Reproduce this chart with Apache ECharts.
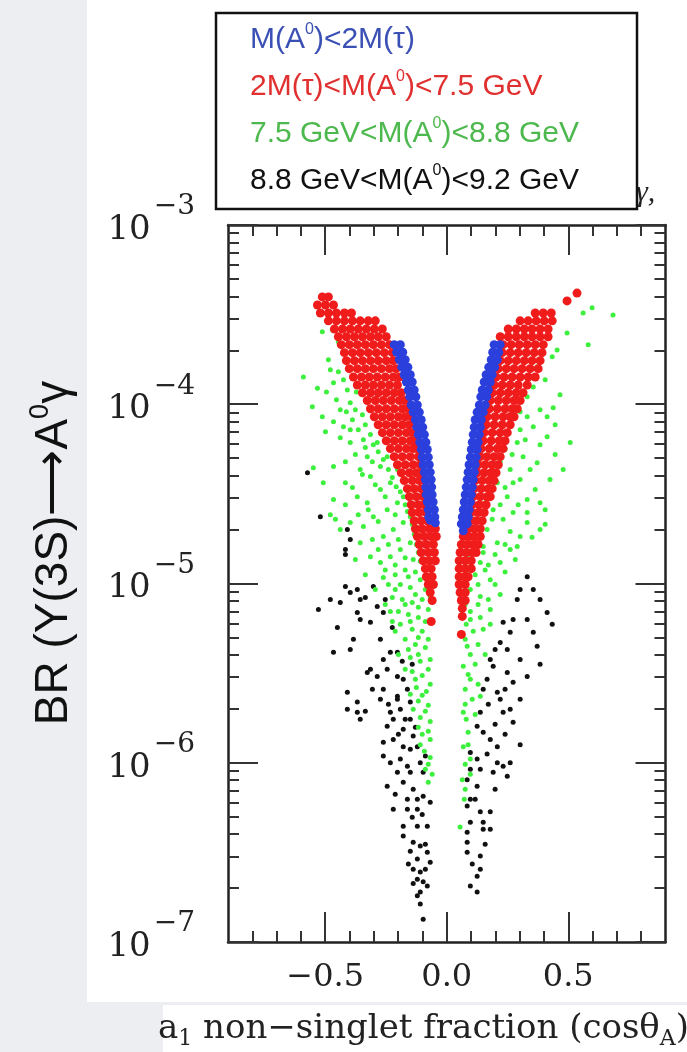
<!DOCTYPE html>
<html><head><meta charset="utf-8">
<script src="https://cdn.jsdelivr.net/npm/echarts@6/dist/echarts.min.js"></script>
<style>html,body{margin:0;padding:0;background:#ffffff}#c{width:687px;height:1052px}</style>
</head><body><div id="c"></div>
<script>
const seriesNames = [
  'M(A{sup|0})<2M(τ)',
  '2M(τ)<M(A{sup|0})<7.5 GeV',
  '7.5 GeV<M(A{sup|0})<8.8 GeV',
  '8.8 GeV<M(A{sup|0})<9.2 GeV'
];
const legendTextColors = ['#3b50b5', '#e0302f', '#4db84d', '#111111'];
const pointColors = ['#2a3fdb', '#f01c1c', '#3ef03e', '#111111'];

const xMajorTicks = [-0.5, 0, 0.5];
const xMinorTicks = [-0.8, -0.7, -0.6, -0.4, -0.3, -0.2, -0.1, 0.1, 0.2, 0.3, 0.4, 0.6, 0.7, 0.8];
const yMajorTicks = [1e-7, 1e-6, 1e-5, 1e-4, 1e-3];
const yMinorTicks = [2e-7,3e-7,4e-7,5e-7,6e-7,7e-7,8e-7,9e-7,2e-6,3e-6,4e-6,5e-6,6e-6,7e-6,8e-6,9e-6,
  2e-5,3e-5,4e-5,5e-5,6e-5,7e-5,8e-5,9e-5,2e-4,3e-4,4e-4,5e-4,6e-4,7e-4,8e-4,9e-4];

const blueData = [
[-0.216,2.15e-4],[-0.191,2.15e-4],[-0.206,1.95e-4],[-0.181,1.95e-4],[-0.195,1.77e-4],[-0.171,1.77e-4],
[-0.185,1.61e-4],[-0.160,1.61e-4],[-0.175,1.46e-4],[-0.150,1.46e-4],[-0.166,1.33e-4],[-0.142,1.33e-4],
[-0.158,1.20e-4],[-0.134,1.20e-4],[-0.152,1.10e-4],[-0.127,1.10e-4],[-0.146,9.9e-5],[-0.121,9.9e-5],
[-0.138,9.03e-5],[-0.113,9.03e-5],[-0.129,8.2e-5],[-0.105,8.2e-5],[-0.123,7.45e-5],[-0.099,7.45e-5],
[-0.117,6.77e-5],[-0.092,6.77e-5],[-0.111,6.14e-5],[-0.086,6.14e-5],[-0.105,5.59e-5],[-0.080,5.59e-5],
[-0.101,5.07e-5],[-0.076,5.07e-5],[-0.097,4.6e-5],[-0.072,4.6e-5],[-0.092,4.18e-5],[-0.068,4.18e-5],
[-0.088,3.8e-5],[-0.064,3.8e-5],[-0.086,3.45e-5],[-0.062,3.45e-5],[-0.084,3.13e-5],[-0.060,3.13e-5],
[-0.080,2.85e-5],[-0.056,2.85e-5],[-0.076,2.58e-5],[-0.051,2.58e-5],[-0.074,2.35e-5],[-0.049,2.35e-5],
[-0.068,2.25e-5],[-0.047,2.18e-5],
[0.195,2.15e-4],[0.220,2.15e-4],[0.189,1.95e-4],[0.214,1.95e-4],[0.183,1.77e-4],[0.208,1.77e-4],
[0.173,1.61e-4],[0.197,1.61e-4],[0.162,1.46e-4],[0.187,1.46e-4],[0.154,1.33e-4],[0.179,1.33e-4],
[0.146,1.2e-4],[0.171,1.2e-4],[0.140,1.1e-4],[0.164,1.1e-4],[0.134,9.9e-5],[0.158,9.9e-5],
[0.125,9.03e-5],[0.150,9.03e-5],[0.117,8.2e-5],[0.142,8.2e-5],[0.113,7.45e-5],[0.138,7.45e-5],
[0.109,6.77e-5],[0.134,6.77e-5],[0.105,6.14e-5],[0.129,6.14e-5],[0.101,5.59e-5],[0.125,5.59e-5],
[0.097,5.07e-5],[0.121,5.07e-5],[0.092,4.6e-5],[0.117,4.6e-5],[0.088,4.18e-5],[0.113,4.18e-5],
[0.084,3.8e-5],[0.109,3.8e-5],[0.080,3.45e-5],[0.105,3.45e-5],[0.076,3.13e-5],[0.101,3.13e-5],
[0.072,2.85e-5],[0.097,2.85e-5],[0.068,2.58e-5],[0.092,2.58e-5],[0.064,2.35e-5],[0.088,2.35e-5],
[0.060,2.15e-5],[0.084,2.15e-5],[0.068,1.97e-5]
];

const redData = [
[-0.512,3.97e-4],[-0.487,3.97e-4],
[-0.532,3.58e-4],[-0.499,3.58e-4],[-0.466,3.58e-4],
[-0.520,3.23e-4],[-0.487,3.23e-4],[-0.454,3.23e-4],[-0.421,3.23e-4],[-0.392,3.23e-4],
[-0.487,2.92e-4],[-0.454,2.92e-4],[-0.421,2.92e-4],[-0.388,2.92e-4],[-0.356,2.92e-4],[-0.323,2.92e-4],[-0.294,2.92e-4],
[-0.462,2.63e-4],[-0.429,2.63e-4],[-0.397,2.63e-4],[-0.364,2.63e-4],[-0.331,2.63e-4],[-0.298,2.63e-4],[-0.265,2.63e-4],
[-0.446,2.38e-4],[-0.413,2.38e-4],[-0.380,2.38e-4],[-0.347,2.38e-4],[-0.314,2.38e-4],[-0.282,2.38e-4],[-0.249,2.38e-4],
[-0.434,2.15e-4],[-0.401,2.15e-4],[-0.368,2.15e-4],[-0.335,2.15e-4],[-0.302,2.15e-4],[-0.269,2.15e-4],[-0.236,2.15e-4],
[-0.421,1.94e-4],[-0.388,1.94e-4],[-0.356,1.94e-4],[-0.323,1.94e-4],[-0.290,1.94e-4],[-0.257,1.94e-4],[-0.224,1.94e-4],
[-0.413,1.75e-4],[-0.380,1.75e-4],[-0.347,1.75e-4],[-0.314,1.75e-4],[-0.282,1.75e-4],[-0.249,1.75e-4],[-0.220,1.75e-4],
[-0.401,1.58e-4],[-0.368,1.58e-4],[-0.335,1.58e-4],[-0.302,1.58e-4],[-0.269,1.58e-4],[-0.236,1.58e-4],[-0.208,1.58e-4],
[-0.384,1.42e-4],[-0.351,1.42e-4],[-0.319,1.42e-4],[-0.286,1.42e-4],[-0.253,1.42e-4],[-0.220,1.42e-4],[-0.195,1.42e-4],
[-0.368,1.28e-4],[-0.335,1.28e-4],[-0.302,1.28e-4],[-0.269,1.28e-4],[-0.236,1.28e-4],[-0.203,1.28e-4],
[-0.347,1.16e-4],[-0.314,1.16e-4],[-0.282,1.16e-4],[-0.249,1.16e-4],[-0.216,1.16e-4],[-0.187,1.16e-4],
[-0.327,1.05e-4],[-0.294,1.05e-4],[-0.261,1.05e-4],[-0.228,1.05e-4],[-0.195,1.05e-4],[-0.171,1.05e-4],
[-0.314,9.44e-5],[-0.282,9.44e-5],[-0.249,9.44e-5],[-0.216,9.44e-5],[-0.183,9.44e-5],[-0.158,9.44e-5],
[-0.298,8.52e-5],[-0.265,8.52e-5],[-0.232,8.52e-5],[-0.199,8.52e-5],[-0.171,8.52e-5],[-0.146,8.52e-5],
[-0.282,7.69e-5],[-0.249,7.69e-5],[-0.216,7.69e-5],[-0.183,7.69e-5],[-0.154,7.69e-5],
[-0.265,6.94e-5],[-0.232,6.94e-5],[-0.199,6.94e-5],[-0.166,6.94e-5],[-0.142,6.94e-5],
[-0.249,6.26e-5],[-0.216,6.26e-5],[-0.183,6.26e-5],[-0.150,6.26e-5],[-0.129,6.26e-5],
[-0.232,5.66e-5],[-0.199,5.66e-5],[-0.166,5.66e-5],[-0.138,5.66e-5],[-0.121,5.66e-5],
[-0.216,5.1e-5],[-0.183,5.1e-5],[-0.150,5.1e-5],[-0.117,5.1e-5],
[-0.203,4.6e-5],[-0.171,4.6e-5],[-0.138,4.6e-5],[-0.109,4.6e-5],
[-0.187,4.15e-5],[-0.154,4.15e-5],[-0.125,4.15e-5],[-0.101,4.15e-5],
[-0.175,3.75e-5],[-0.142,3.75e-5],[-0.113,3.75e-5],[-0.088,3.75e-5],
[-0.162,3.38e-5],[-0.134,3.38e-5],[-0.105,3.38e-5],[-0.080,3.38e-5],
[-0.154,3.05e-5],[-0.125,3.05e-5],[-0.097,3.05e-5],[-0.076,3.05e-5],
[-0.146,2.75e-5],[-0.117,2.75e-5],[-0.092,2.75e-5],
[-0.142,2.49e-5],[-0.113,2.49e-5],[-0.084,2.49e-5],
[-0.134,2.24e-5],[-0.105,2.24e-5],[-0.080,2.24e-5],
[-0.129,2.02e-5],[-0.101,2.02e-5],[-0.072,2.02e-5],[-0.047,2.02e-5],
[-0.121,1.83e-5],[-0.092,1.83e-5],[-0.064,1.83e-5],[-0.043,1.83e-5],
[-0.113,1.65e-5],[-0.084,1.65e-5],[-0.055,1.65e-5],
[-0.105,1.49e-5],[-0.076,1.49e-5],[-0.051,1.49e-5],
[-0.097,1.34e-5],[-0.072,1.34e-5],[-0.047,1.34e-5],
[-0.088,1.21e-5],[-0.064,1.21e-5],
[-0.084,1.09e-5],[-0.060,1.09e-5],
[-0.076,9.87e-6],[-0.055,9.87e-6],
[-0.068,8.91e-6],[-0.060,8.04e-6],[-0.064,6.14e-6],
[0.536,4.17e-4],[0.495,3.77e-4],
[0.364,3.23e-4],[0.397,3.23e-4],[0.430,3.23e-4],
[0.302,2.92e-4],[0.335,2.92e-4],[0.368,2.92e-4],[0.401,2.92e-4],[0.434,2.92e-4],
[0.253,2.63e-4],[0.286,2.63e-4],[0.319,2.63e-4],[0.351,2.63e-4],[0.384,2.63e-4],[0.417,2.63e-4],
[0.220,2.38e-4],[0.253,2.38e-4],[0.286,2.38e-4],[0.319,2.38e-4],[0.351,2.38e-4],[0.384,2.38e-4],[0.417,2.38e-4],
[0.232,2.15e-4],[0.265,2.15e-4],[0.298,2.15e-4],[0.331,2.15e-4],[0.364,2.15e-4],[0.397,2.15e-4],
[0.228,1.94e-4],[0.261,1.94e-4],[0.294,1.94e-4],[0.327,1.94e-4],[0.360,1.94e-4],[0.392,1.94e-4],
[0.220,1.75e-4],[0.253,1.75e-4],[0.286,1.75e-4],[0.319,1.75e-4],[0.351,1.75e-4],[0.384,1.75e-4],
[0.212,1.58e-4],[0.245,1.58e-4],[0.277,1.58e-4],[0.310,1.58e-4],[0.343,1.58e-4],[0.376,1.58e-4],
[0.203,1.42e-4],[0.236,1.42e-4],[0.269,1.42e-4],[0.302,1.42e-4],[0.335,1.42e-4],[0.364,1.42e-4],
[0.195,1.28e-4],[0.228,1.28e-4],[0.261,1.28e-4],[0.294,1.28e-4],[0.331,1.28e-4],
[0.187,1.16e-4],[0.220,1.16e-4],[0.253,1.16e-4],[0.286,1.16e-4],[0.314,1.16e-4],
[0.179,1.05e-4],[0.212,1.05e-4],[0.245,1.05e-4],[0.277,1.05e-4],[0.302,1.05e-4],
[0.175,9.44e-5],[0.208,9.44e-5],[0.240,9.44e-5],[0.269,9.44e-5],[0.290,9.44e-5],
[0.166,8.52e-5],[0.199,8.52e-5],[0.232,8.52e-5],[0.261,8.52e-5],[0.277,8.52e-5],
[0.162,7.69e-5],[0.195,7.69e-5],[0.228,7.69e-5],[0.261,7.69e-5],
[0.154,6.94e-5],[0.187,6.94e-5],[0.220,6.94e-5],[0.249,6.94e-5],
[0.150,6.26e-5],[0.183,6.26e-5],[0.216,6.26e-5],[0.240,6.26e-5],
[0.142,5.66e-5],[0.175,5.66e-5],[0.208,5.66e-5],[0.232,5.66e-5],
[0.138,5.1e-5],[0.166,5.1e-5],[0.195,5.1e-5],[0.220,5.1e-5],
[0.129,4.6e-5],[0.158,4.6e-5],[0.187,4.6e-5],[0.212,4.6e-5],
[0.125,4.15e-5],[0.154,4.15e-5],[0.183,4.15e-5],[0.203,4.15e-5],
[0.117,3.75e-5],[0.146,3.75e-5],[0.175,3.75e-5],[0.195,3.75e-5],
[0.113,3.38e-5],[0.142,3.38e-5],[0.171,3.38e-5],[0.187,3.38e-5],
[0.109,3.05e-5],[0.138,3.05e-5],[0.166,3.05e-5],[0.179,3.05e-5],
[0.105,2.75e-5],[0.134,2.75e-5],[0.162,2.75e-5],
[0.101,2.49e-5],[0.129,2.49e-5],[0.154,2.49e-5],
[0.097,2.24e-5],[0.121,2.24e-5],[0.146,2.24e-5],
[0.088,2.02e-5],[0.113,2.02e-5],[0.138,2.02e-5],
[0.068,1.83e-5],[0.092,1.83e-5],[0.117,1.83e-5],[0.138,1.83e-5],
[0.060,1.65e-5],[0.084,1.65e-5],[0.109,1.65e-5],[0.129,1.65e-5],
[0.055,1.49e-5],[0.080,1.49e-5],[0.105,1.49e-5],[0.121,1.49e-5],
[0.051,1.34e-5],[0.076,1.34e-5],[0.101,1.34e-5],
[0.051,1.21e-5],[0.076,1.21e-5],[0.101,1.21e-5],
[0.051,1.09e-5],[0.072,1.09e-5],[0.088,1.09e-5],
[0.051,9.87e-6],[0.076,9.87e-6],[0.055,8.91e-6],[0.076,8.91e-6],
[0.060,8.04e-6],[0.076,8.04e-6],[0.064,7.26e-6],[0.064,6.55e-6],[0.060,5.2e-6]
];

const greenData = [
[-0.512,2.54e-4],[-0.471,2.6e-4],[-0.446,2.23e-4],[-0.487,1.77e-4],[-0.479,1.56e-4],[-0.590,1.42e-4],
[-0.532,1.23e-4],[-0.466,1.32e-4],[-0.425,1.37e-4],[-0.409,1.2e-4],[-0.553,9.69e-5],[-0.512,8.52e-5],
[-0.499,7.03e-5],[-0.438,9.32e-5],[-0.397,1.02e-4],[-0.388,8.2e-5],[-0.364,7.21e-5],[-0.425,7.5e-5],
[-0.397,6.11e-5],[-0.343,6.34e-5],[-0.549,4.43e-5],[-0.466,4.49e-5],[-0.508,3.65e-5],[-0.466,2.94e-5],
[-0.417,3.65e-5],[-0.356,4.32e-5],[-0.327,5.1e-5],[-0.286,6.11e-5],[-0.314,3.95e-5],[-0.273,4.49e-5],
[-0.245,5.1e-5],[-0.368,3.05e-5],[-0.327,2.82e-5],[-0.273,3.34e-5],[-0.232,3.65e-5],[-0.203,4.32e-5],
[-0.397,2.19e-5],[-0.343,2.08e-5],[-0.302,2.36e-5],[-0.245,2.58e-5],[-0.203,2.82e-5],[-0.179,3.05e-5],
[-0.356,1.69e-5],[-0.314,1.41e-5],[-0.261,1.83e-5],[-0.220,2.0e-5],[-0.179,2.19e-5],[-0.150,2.36e-5],
[-0.232,1.41e-5],[-0.191,1.55e-5],[-0.150,1.69e-5],[-0.138,1.36e-5],[-0.273,1.31e-5],
[-0.376,9.32e-5],[-0.347,8.74e-5],[-0.335,7.69e-5],[-0.314,6.77e-5],[-0.302,5.95e-5],[-0.282,5.44e-5],
[-0.261,4.91e-5],[-0.240,4.32e-5],[-0.224,3.9e-5],[-0.208,3.47e-5],[-0.191,3.25e-5],[-0.171,2.75e-5],
[-0.162,2.52e-5],[-0.142,2.14e-5],[-0.134,1.88e-5],[-0.125,1.65e-5],[-0.117,1.49e-5],[-0.109,1.33e-5],
[-0.171,1.19e-5],[-0.129,1.16e-5],[-0.212,1.12e-5],[-0.240,9.87e-6],[-0.191,9.87e-6],[-0.150,9.5e-6],
[-0.109,1.05e-5],[-0.088,9.26e-6],[-0.224,8.36e-6],[-0.183,8.15e-6],[-0.142,7.84e-6],[-0.101,8.15e-6],
[-0.199,6.99e-6],[-0.158,6.72e-6],[-0.117,6.47e-6],[-0.076,7.16e-6],[-0.191,5.92e-6],[-0.142,5.55e-6],
[-0.101,5.41e-6],[-0.171,4.88e-6],[-0.129,4.57e-6],[-0.088,4.4e-6],[-0.150,3.87e-6],[-0.109,3.68e-6],
[-0.068,3.77e-6],[-0.142,3.23e-6],[-0.101,3.07e-6],[-0.125,2.63e-6],[-0.084,2.5e-6],[-0.117,2.21e-6],
[-0.076,2.09e-6],[-0.109,1.79e-6],[-0.068,1.7e-6],[-0.101,1.44e-6],[-0.068,1.35e-6],[-0.092,1.16e-6],
[-0.068,1.07e-6],[-0.088,9.2e-7],[-0.076,7.79e-7],
[-0.253,7.64e-6],[-0.224,6.14e-6],[-0.479,2.42e-5],[-0.438,2.0e-5],[-0.376,1.36e-5],[-0.335,1.12e-5],
[-0.294,9.26e-6],[-0.253,1.19e-5],
[-0.446,1.52e-4],[-0.388,1.40e-4],[-0.495,1.17e-4],[-0.372,1.17e-4],[-0.454,1.06e-4],[-0.413,9.09e-5],
[-0.466,7.99e-5],[-0.397,7.21e-5],[-0.438,6.51e-5],[-0.335,5.73e-5],[-0.376,5.24e-5],[-0.417,4.78e-5],
[-0.306,4.78e-5],[-0.347,4.05e-5],[-0.388,3.43e-5],[-0.294,3.56e-5],[-0.253,3.05e-5],[-0.323,2.58e-5],
[-0.282,2.22e-5],[-0.212,2.42e-5],[-0.364,2.42e-5],[-0.417,2.75e-5],[-0.458,2.28e-5],[-0.240,1.65e-5],
[-0.306,1.76e-5],[-0.199,1.76e-5],[-0.282,1.55e-5],[-0.171,1.39e-5],[-0.212,1.27e-5],[-0.158,1.09e-5],
[-0.261,1.08e-5],[-0.129,8.69e-6],[-0.212,9.26e-6],[-0.068,8.36e-6],[-0.117,7.36e-6],[-0.171,7.64e-6],
[-0.232,6.99e-6],[-0.088,6.14e-6],[-0.150,6.14e-6],[-0.212,5.41e-6],[-0.117,5.0e-6],[-0.076,4.88e-6],
[-0.158,4.29e-6],[-0.199,4.02e-6],[-0.117,4.02e-6],[-0.076,3.32e-6],[-0.129,2.92e-6],[-0.171,3.32e-6],
[-0.068,2.74e-6],[-0.150,2.41e-6],[-0.101,2.38e-6],[-0.138,1.99e-6],[-0.088,1.94e-6],[-0.117,1.58e-6],
[-0.076,1.5e-6],[-0.109,1.26e-6],[-0.076,9.81e-7],[-0.060,8.63e-7],
[0.598,3.45e-4],[0.684,3.15e-4],[0.561,3.23e-4],[0.495,2.5e-4],[0.454,2.01e-4],[0.434,1.84e-4],
[0.582,2.15e-4],[0.372,1.62e-4],[0.356,1.25e-4],[0.438,9.56e-5],[0.413,8.52e-5],[0.331,1.1e-4],
[0.331,8.52e-5],[0.356,7.5e-5],[0.413,6.59e-5],[0.508,6.11e-5],[0.302,7.21e-5],[0.290,6.11e-5],
[0.314,5.1e-5],[0.372,4.72e-5],[0.479,4.32e-5],[0.261,4.32e-5],[0.273,3.65e-5],[0.331,2.94e-5],
[0.384,2.82e-5],[0.249,3.05e-5],[0.208,3.65e-5],[0.191,2.58e-5],[0.232,2.28e-5],[0.273,2.49e-5],
[0.331,2.19e-5],[0.384,2.0e-5],[0.166,2.0e-5],[0.208,1.69e-5],[0.261,1.55e-5],[0.302,1.83e-5],
[0.150,1.49e-5],[0.220,1.31e-5],[0.138,1.31e-5],[0.405,2.14e-5],[0.331,2.49e-5],[0.290,1.61e-5],
[0.240,1.16e-5],[0.179,1.05e-5],[0.150,1.61e-5],[0.097,1.31e-5],[0.138,8.47e-6],[0.097,6.3e-6],
[0.150,5.55e-6],[0.084,4.46e-6],[0.068,3.45e-6],[0.097,2.92e-6],[0.138,2.35e-6],[0.068,1.91e-6],
[0.088,1.48e-6],[0.068,1.23e-6],[0.064,8.04e-7],[0.055,4.38e-7],
[0.240,5.59e-5],[0.220,4.78e-5],[0.199,4.05e-5],[0.179,3.34e-5],[0.162,2.94e-5],[0.146,2.52e-5],
[0.129,2.22e-5],[0.117,1.88e-5],[0.105,1.65e-5],[0.088,1.45e-5],[0.080,1.16e-5],[0.117,1.12e-5],
[0.158,1.19e-5],[0.199,9.87e-6],[0.097,9.26e-6],[0.129,7.64e-6],[0.076,7.64e-6],[0.179,7.16e-6],
[0.109,5.41e-6],[0.080,5.92e-6],[0.129,4.57e-6],[0.097,4.02e-6],[0.076,2.57e-6],[0.105,2.26e-6],
[0.080,1.75e-6],[0.097,1.05e-6],[0.076,9.81e-7],[0.072,6.26e-7],
[0.405,1.37e-4],[0.466,1.13e-4],[0.384,9.32e-5],[0.302,9.09e-5],[0.446,7.69e-5],[0.384,5.95e-5],
[0.323,6.34e-5],[0.446,5.24e-5],[0.269,5.24e-5],[0.343,4.32e-5],[0.425,3.8e-5],[0.302,3.8e-5],
[0.240,3.43e-5],[0.364,3.34e-5],[0.294,2.75e-5],[0.220,2.75e-5],[0.405,2.58e-5],[0.351,1.81e-5],
[0.261,1.95e-5],[0.187,2.28e-5],[0.240,1.65e-5],[0.199,1.45e-5],[0.171,1.27e-5],[0.282,1.36e-5],
[0.129,9.87e-6],[0.220,8.69e-6],[0.171,8.15e-6],[0.097,6.99e-6],[0.179,5.92e-6],[0.138,6.47e-6],
[0.076,4.88e-6],[0.158,4.02e-6],[0.117,3.54e-6],[0.088,3.11e-6],[0.129,2.74e-6],[0.076,2.12e-6],
[0.117,1.86e-6],[0.088,1.26e-6],[0.097,8.63e-7],[0.076,7.12e-7]
];

const blackData = [
[-0.573,4.15e-5],[-0.520,2.36e-5],[-0.409,2.0e-5],[-0.397,1.76e-5],[-0.417,1.55e-5],[-0.417,1.45e-5],
[-0.417,9.62e-6],[-0.438,7.84e-6],[-0.397,8.91e-6],[-0.368,9.26e-6],[-0.356,8.15e-6],[-0.368,6.9e-6],
[-0.356,6.3e-6],[-0.302,9.62e-6],[-0.286,7.45e-6],[-0.261,6.9e-6],[-0.314,6.07e-6],[-0.273,4.88e-6],
[-0.384,4.88e-6],[-0.397,4.29e-6],[-0.466,4.13e-6],[-0.232,4.13e-6],[-0.261,3.77e-6],[-0.203,4.13e-6],
[-0.314,3.32e-6],[-0.327,3.19e-6],[-0.286,3.03e-6],[-0.245,3.32e-6],[-0.203,3.03e-6],[-0.179,2.92e-6],
[-0.261,2.57e-6],[-0.203,2.35e-6],[-0.162,2.57e-6],[-0.409,2.47e-6],[-0.368,2.18e-6],[-0.409,1.99e-6],
[-0.368,1.91e-6],[-0.356,1.75e-6],[-0.273,2.26e-6],[-0.232,1.91e-6],[-0.203,2.26e-6],[-0.191,1.99e-6],
[-0.220,1.75e-6],[-0.150,2.18e-6],[-0.245,1.6e-6],[-0.179,1.54e-6],[-0.150,1.75e-6],[-0.138,1.41e-6],
[-0.261,1.3e-6],[-0.220,1.35e-6],[-0.179,1.23e-6],[-0.121,1.23e-6],[-0.261,1.09e-6],[-0.232,1.0e-6],
[-0.191,1.05e-6],[-0.162,9.56e-7],[-0.109,1.0e-6],[-0.203,8.86e-7],[-0.150,8.86e-7],[-0.097,8.86e-7],
[-0.245,7.4e-7],[-0.179,7.79e-7],[-0.138,7.12e-7],[-0.162,6.26e-7],[-0.121,6.26e-7],[-0.097,6.51e-7],
[-0.068,6.03e-7],[-0.220,5.51e-7],[-0.162,5.51e-7],[-0.121,5.51e-7],[-0.179,4.43e-7],[-0.121,4.43e-7],
[-0.080,4.43e-7],[-0.179,3.9e-7],[-0.138,3.6e-7],[-0.109,3.43e-7],[-0.080,3.17e-7],[-0.121,2.9e-7],
[-0.068,2.79e-7],[-0.138,2.55e-7],[-0.109,2.46e-7],[-0.121,2.24e-7],[-0.097,2.17e-7],[-0.080,2.05e-7],
[-0.109,1.9e-7],[-0.121,1.81e-7],[-0.097,1.34e-7],
[-0.335,8.36e-6],[-0.253,8.15e-6],[-0.224,5.69e-6],[-0.183,3.68e-6],[-0.142,3.54e-6],[-0.306,2.57e-6],
[-0.335,1.94e-6],[-0.240,2.12e-6],[-0.171,1.75e-6],[-0.129,1.58e-6],[-0.199,1.44e-6],[-0.150,1.19e-6],
[-0.088,1.09e-6],[-0.212,6.67e-7],[-0.142,4.97e-7],[-0.101,5.15e-7],[-0.150,3.21e-7],[-0.088,3.51e-7],
[-0.158,2.72e-7],[-0.088,2.55e-7],[-0.138,2.12e-7],[-0.109,1.63e-7],[-0.479,8.15e-6],[-0.528,7.16e-6],
[-0.450,5.69e-6],
[0.331,1.09e-5],[0.356,9.26e-6],[0.413,6.9e-6],[0.290,8.15e-6],[0.331,6.3e-6],[0.273,6.3e-6],
[0.232,6.07e-6],[0.261,5.34e-6],[0.356,5.34e-6],[0.220,4.69e-6],[0.249,4.29e-6],[0.372,4.46e-6],
[0.179,3.77e-6],[0.191,3.45e-6],[0.166,2.92e-6],[0.249,3.19e-6],[0.273,2.81e-6],[0.331,3.03e-6],
[0.150,2.57e-6],[0.208,2.47e-6],[0.220,2.26e-6],[0.232,1.91e-6],[0.261,1.99e-6],[0.273,1.68e-6],
[0.138,1.91e-6],[0.125,1.6e-6],[0.150,1.48e-6],[0.179,1.35e-6],[0.208,1.23e-6],[0.097,1.14e-6],
[0.125,1.05e-6],[0.138,9.2e-7],[0.097,9.2e-7],[0.208,1.0e-6],[0.232,9.56e-7],[0.261,1.0e-6],
[0.191,8.86e-7],[0.249,8.41e-7],[0.084,8.04e-7],[0.125,7.4e-7],[0.097,6.26e-7],[0.084,5.73e-7],
[0.138,5.33e-7],[0.179,5.33e-7],[0.150,4.66e-7],[0.097,4.66e-7],[0.084,4.1e-7],[0.150,4.26e-7],
[0.084,3.6e-7],[0.138,3.02e-7],[0.084,3.17e-7],[0.138,2.55e-7],[0.125,2.33e-7],[0.097,2.05e-7],
[0.125,1.9e-7],
[0.302,9.26e-6],[0.384,8.15e-6],[0.434,5.92e-6],[0.199,4.29e-6],[0.302,3.77e-6],[0.384,3.54e-6],
[0.240,2.57e-6],[0.302,2.26e-6],[0.171,2.12e-6],[0.199,1.64e-6],[0.240,1.44e-6],[0.302,1.26e-6],
[0.166,1.12e-6],[0.117,6.26e-7],[0.199,7.12e-7],[0.158,3.51e-7],[0.105,2.72e-7],[0.179,4.26e-7]
];

const allData = [blueData, redData, greenData, blackData];
const symbolSizes = [9, 9, 5, 5];
const seriesZ = [5, 4, 3, 2];

const chart = echarts.init(document.getElementById('c'), null, {renderer: 'canvas'});

const serif = 'DejaVu Serif';
const sans = 'Liberation Sans';
const frameColor = '#222';

function xAxisDef(pos, ticks, len, showLine, showLabel) {
  return {
    type: 'value', min: -0.9, max: 0.9, position: pos,
    axisLine: {show: showLine, onZero: false, lineStyle: {color: frameColor, width: 2.5}},
    axisTick: {show: true, inside: true, length: len, customValues: ticks, lineStyle: {color: '#333', width: 2}},
    axisLabel: {show: showLabel, customValues: xMajorTicks, margin: 20,
      formatter: v => (v < 0 ? '\u2212' : '') + Math.abs(v).toFixed(1),
      fontFamily: serif, fontSize: 32, color: '#222'},
    splitLine: {show: false}
  };
}
function yAxisDef(pos, ticks, len, showLine, showLabel) {
  return {
    type: 'log', logBase: 10, min: 1e-7, max: 1e-3, position: pos,
    axisLine: {show: showLine, onZero: false, lineStyle: {color: frameColor, width: 2.5}},
    axisTick: {show: true, inside: true, length: len, customValues: ticks, lineStyle: {color: '#333', width: 2}},
    axisLabel: {show: showLabel, customValues: yMajorTicks, margin: 33, padding: [0, 0, 10, 0],
      formatter: v => '{b|10}{s|\u2212' + (-Math.round(Math.log10(v))) + '}',
      rich: {
        b: {fontFamily: serif, fontSize: 34, color: '#222', lineHeight: 54, verticalAlign: 'bottom', padding: [0, 3, 0, 0]},
        s: {fontFamily: serif, fontSize: 28, color: '#222', lineHeight: 29, verticalAlign: 'top'}
      }},
    splitLine: {show: false}, minorTick: {show: false}
  };
}

const option = {
  backgroundColor: '#ffffff',
  animation: false,
  grid: {left: 228, right: 21.5, top: 225, bottom: 110, containLabel: false},
  xAxis: [
    xAxisDef('bottom', xMajorTicks, 30, true, true),
    xAxisDef('top', xMajorTicks, 30, true, false),
    xAxisDef('bottom', xMinorTicks, 11, false, false),
    xAxisDef('top', xMinorTicks, 11, false, false)
  ],
  yAxis: [
    yAxisDef('left', yMajorTicks, 30, true, true),
    yAxisDef('right', yMajorTicks, 30, true, false),
    yAxisDef('left', yMinorTicks, 11, false, false),
    yAxisDef('right', yMinorTicks, 11, false, false)
  ],
  legend: {
    orient: 'vertical', left: 245, top: 22, padding: 0, itemGap: 11,
    itemWidth: 0, itemHeight: 0, icon: 'rect', selectedMode: false,
    formatter: n => n,
    textStyle: {fontFamily: sans, fontSize: 30, lineHeight: 36,
      rich: {sup: {fontFamily: sans, fontSize: 16, lineHeight: 22, verticalAlign: 'top'}}},
    data: seriesNames.map((n, i) => ({name: n, textStyle: {color: legendTextColors[i]}})),
    z: 10
  },
  series: seriesNames.map((n, i) => ({
    name: n, type: 'scatter', xAxisIndex: 0, yAxisIndex: 0,
    data: allData[i], symbol: 'circle', symbolSize: symbolSizes[i], z: seriesZ[i],
    itemStyle: {color: pointColors[i], opacity: 1}, emphasis: {disabled: true}
  })),
  graphic: [
    {type: 'rect', z: -10, shape: {x: 0, y: 0, width: 87, height: 1052}, style: {fill: '#eceef2'}},
    {type: 'rect', z: -10, shape: {x: 87, y: 1002, width: 76, height: 50}, style: {fill: '#eceef2'}},
    {type: 'rect', z: -10, shape: {x: 163, y: 1002, width: 524, height: 3}, style: {fill: '#eceef2'}},
    {type: 'text', z: 2, x: 636, y: 178,
      style: {text: 'γ,', fontFamily: 'Liberation Serif', fontStyle: 'italic', fontSize: 30, fill: '#222'}},
    {type: 'rect', z: 8, shape: {x: 216, y: 13, width: 421, height: 196},
      style: {fill: '#ffffff', stroke: '#111', lineWidth: 2.5}},
    {type: 'text', z: 10, x: 54, y: 553, rotation: Math.PI / 2,
      style: {text: 'BR (Υ(3S)\u27F6A{sup|0}γ', fontFamily: sans, fontSize: 46, fill: '#111',
        textAlign: 'center', textVerticalAlign: 'middle', lineHeight: 54,
        rich: {sup: {fontFamily: sans, fontSize: 27, lineHeight: 34, verticalAlign: 'top', fill: '#111'}}}},
    {type: 'text', z: 10, x: 158, y: 1009,
      style: {text: 'a{sub|1} non\u2212singlet fraction (cosθ{sub|A})', fontFamily: serif, fontSize: 34,
        fill: '#222', lineHeight: 41,
        rich: {sub: {fontFamily: serif, fontSize: 22, lineHeight: 22, verticalAlign: 'bottom', fill: '#222'}}}}
  ]
};
chart.setOption(option);
</script>
</body></html>
